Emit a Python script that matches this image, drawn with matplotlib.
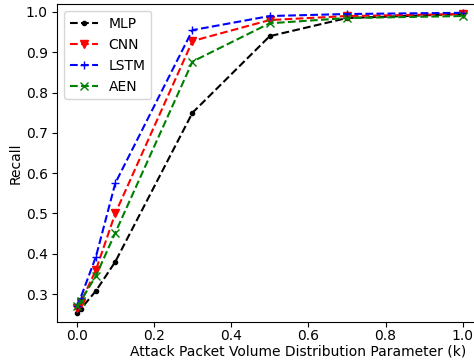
import matplotlib.pyplot as plt

k = [0, 0.01, 0.05, 0.1, 0.3, 0.5, 0.7, 1.0]
mlp = [0.252, 0.262, 0.308, 0.38, 0.75, 0.94, 0.985, 0.995]
cnn = [0.265, 0.278, 0.36, 0.50, 0.928, 0.98, 0.99, 0.995]
lstm = [0.27, 0.29, 0.393, 0.575, 0.955, 0.99, 0.995, 0.998]
aen = [0.27, 0.282, 0.345, 0.452, 0.877, 0.972, 0.985, 0.99]

fig = plt.figure(figsize=(4.74, 3.62), dpi=100)
ax = fig.add_axes([0.121, 0.111, 0.896, 0.877])

ax.plot(k, mlp, 'k--', marker='.', label='MLP')
ax.plot(k, cnn, 'r--', marker='v', label='CNN')
ax.plot(k, lstm, 'b--', marker='+', label='LSTM')
ax.plot(k, aen, 'g--', marker='x', label='AEN')

ax.set_xlim(-0.05, 1.05)
ax.set_ylim(0.231, 1.019)
ax.tick_params(axis='x', pad=2)
ax.set_xlabel('Attack Packet Volume Distribution Parameter (k)')
ax.set_ylabel('Recall')
ax.xaxis.set_label_coords(0.567, -0.072)
ax.yaxis.set_label_coords(-0.082, 0.5)
ax.legend(loc='upper left')

plt.savefig('out.png', dpi=100)
